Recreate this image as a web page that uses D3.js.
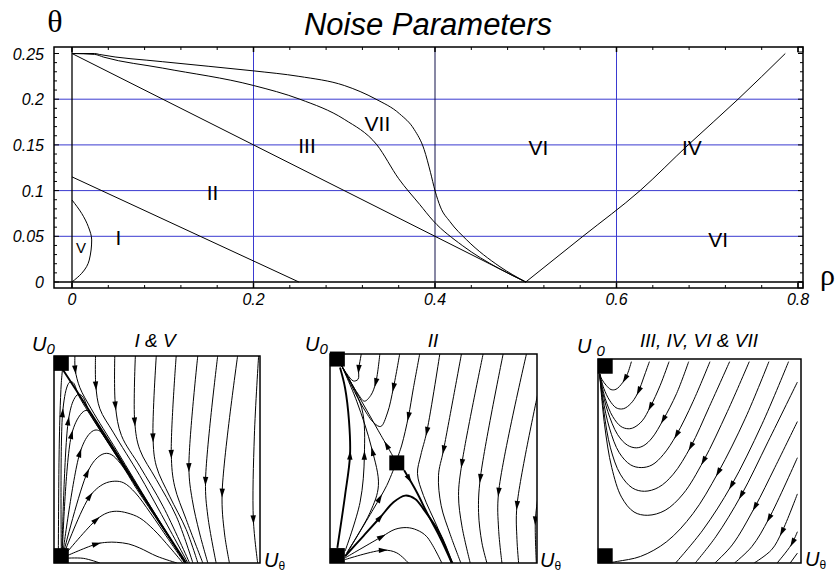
<!DOCTYPE html>
<html><head><meta charset="utf-8">
<script src="https://cdn.jsdelivr.net/npm/d3@7"></script>
<style>body{margin:0;background:#fff}svg{display:block}</style>
</head><body><svg id="c" width="836" height="575"></svg>
<script>
// ---------------- DATA ----------------
const rhoTicks = [0, 0.2, 0.4, 0.6, 0.8];
const rhoTickLabels = ["0", "0.2", "0.4", "0.6", "0.8"];
const thetaTicks = [0, 0.05, 0.1, 0.15, 0.2, 0.25];
const thetaTickLabels = ["0", "0.05", "0.1", "0.15", "0.2", "0.25"];
const hGridBlue = [0.05, 0.1, 0.15, 0.2];
const vGridBlue = [0.2, 0.6];
const vGridDark = [0.4];

const boundaryI_II = [[0, 0.115], [0.25, 0]];
const boundaryII_III = [[0, 0.25], [0.5, 0]];
const boundaryV = [[0, 0.0897], [0.0107, 0.075], [0.018, 0.0605], [0.0217, 0.046], [0.019, 0.024], [0.0107, 0.0095], [0, 0]];
const boundaryVIIupper = [[0, 0.25], [0.025, 0.25], [0.03, 0.249], [0.1, 0.241], [0.2, 0.231], [0.25, 0.225], [0.3, 0.215], [0.335, 0.2], [0.361, 0.184], [0.377, 0.167], [0.388, 0.145], [0.395, 0.12], [0.4, 0.1], [0.406, 0.082], [0.4165, 0.066], [0.435, 0.046], [0.4716, 0.0167], [0.5, 0]];
const boundaryVIIlower = [[0, 0.25], [0.025, 0.249], [0.035, 0.246], [0.1, 0.234], [0.2, 0.215], [0.251, 0.2], [0.3, 0.178], [0.336, 0.15], [0.36, 0.113], [0.383, 0.085], [0.398, 0.067], [0.43, 0.04], [0.47, 0.015], [0.5, 0]];
const boundaryIV = [[0.5, 0], [0.563, 0.05], [0.626, 0.1], [0.679, 0.15], [0.734, 0.2], [0.786, 0.25]];

const regionLabels = ["V", "I", "II", "III", "VII", "VI", "IV", "VI"];
const regionLabelAt = [[0.0099, 0.0317], [0.0512, 0.0405], [0.1548, 0.0897], [0.259, 0.1411], [0.3366, 0.1647], [0.514, 0.139], [0.683, 0.139], [0.712, 0.0383]];

const panelTitles = ["I & V", "II", "III, IV, VI & VII"];

// phase portraits: coordinates in phase-plane units (0..620 per side), ordered along the flow
const p1Streams = [
  [[23,585],[100,466],[180,342],[260,214],[330,104],[398,0]],
  [[63,623],[64,578],[78,525],[112,462],[190,335],[290,170],[396,0]],
  [[125,623],[126,530],[138,462],[178,392],[258,262],[318,155],[403,0]],
  [[183,623],[185,470],[203,382],[258,290],[328,170],[408,0]],
  [[245,623],[243,422],[258,340],[308,250],[368,140],[418,0]],
  [[308,623],[298,375],[308,290],[348,200],[398,100],[433,0]],
  [[368,623],[353,325],[363,230],[398,130],[448,0]],
  [[433,623],[406,285],[416,190],[438,90],[463,0]],
  [[493,623],[456,245],[463,140],[488,0]],
  [[553,623],[506,210],[513,90],[528,0]],
  [[616,623],[603,380],[600,130],[613,0]],
  [[30,14],[88,14],[138,0]],
  [[35,20],[128,57],[160,62],[188,62],[225,57],[258,45],[310,20],[370,0]],
  [[33,25],[128,130],[160,150],[188,155],[220,150],[258,135],[300,100],[350,45],[388,0]],
  [[31,30],[108,200],[150,237],[183,245],[210,240],[245,210],[290,150],[345,70],[393,0]],
  [[29,32],[100,270],[130,315],[153,328],[172,325],[200,298],[250,220],[320,115],[395,0]],
  [[27,32],[78,330],[105,385],[123,398],[138,395],[160,365],[220,272],[310,135],[396,0]],
  [[25,33],[53,385],[80,445],[96,457],[108,452],[130,415],[200,305],[300,152],[396,0]],
  [[24,35],[43,425],[60,490],[73,505],[85,500],[110,445],[190,320],[300,150],[396,0]],
  [[22,35],[26,450],[40,530],[48,542],[58,540],[75,500],[140,395],[260,210],[396,0]],
  [[13,20],[15,300],[18,445],[22,540],[26,585]]
];
const p1Arrows = [null,[63,578],[125,530],[185,470],[243,422],[298,375],[353,325],[406,285],[456,245],[506,210],[601,130],
  null,[128,57],[128,130],[108,200],[100,270],[78,330],[53,385],[43,425],[26,450],null];
const p1Thick = [0];
const p1Fixed = [[22,598],[22,22]];

const p2Streams = [
  [[200,297],[145,392],[90,488],[35,585]],
  [[222,275],[260,210],[290,150],[330,75],[365,0]],
  [[45,20],[100,80],[150,135],[190,180],[225,200],[255,190],[280,160],[330,85],[365,0]],
  [[45,15],[155,78],[195,100],[230,105],[260,98],[290,78],[335,0]],
  [[45,10],[160,38],[200,30],[235,0]],
  [[22,45],[45,200],[60,320],[57,420],[45,520],[30,580]],
  [[45,35],[90,180],[103,320],[95,460],[35,585]],
  [[50,30],[120,150],[145,230],[125,340],[80,480],[35,585]],
  [[50,28],[130,160],[170,230],[192,282]],
  [[95,627],[86,575],[84,545],[70,540],[50,562],[35,585]],
  [[150,627],[137,535],[122,497],[103,480],[85,500],[60,540],[35,585]],
  [[210,627],[190,520],[172,445],[152,405],[132,415],[100,460],[65,525],[35,585]],
  [[270,627],[250,520],[235,435],[215,350],[202,312]],
  [[330,627],[290,390],[272,320],[262,265],[280,200],[320,110],[368,0]],
  [[395,627],[340,335],[325,260],[333,170],[360,85],[392,0]],
  [[460,627],[395,295],[385,200],[395,110],[420,0]],
  [[520,627],[450,250],[445,150],[455,60],[470,0]],
  [[590,627],[505,210],[505,100],[515,0]],
  [[622,500],[560,170],[560,70],[565,0]],
  [[622,190],[615,125],[618,0]]
];
const p2Arrows = [[170,350],[230,245],[150,135],[155,78],[160,38],[60,320],[103,320],[122,330],[145,195],[86,575],[137,535],[190,520],
  [235,435],[290,390],[340,335],[395,295],[450,250],[505,210],[560,170],[615,125]];
const p2Thick = [1,2,5];
const p2Fixed = [[22,605],[22,22],[200,297]];

const p3Streams = [
  [[102,612],[90,575],[75,548],[55,528],[40,527],[25,540],[12,558],[5,575]],
  [[157,612],[140,565],[124,522],[105,490],[85,472],[72,468],[55,472],[35,495],[18,530],[5,575]],
  [[217,612],[190,540],[160,475],[135,432],[110,412],[92,408],[70,415],[45,445],[22,500],[5,575]],
  [[277,612],[240,515],[199,435],[165,380],[140,357],[117,350],[90,358],[60,390],[30,460],[12,530],[5,575]],
  [[342,612],[290,490],[240,390],[200,330],[165,298],[132,290],[100,298],[65,335],[35,410],[15,500],[5,575]],
  [[402,612],[340,475],[283,353],[230,270],[185,230],[142,218],[105,228],[68,270],[38,350],[18,460],[5,575]],
  [[462,612],[395,460],[322,310],[260,210],[205,160],[152,145],[110,155],[72,200],[42,290],[20,420],[5,575]],
  [[522,612],[450,440],[367,275],[290,150],[210,65],[130,20],[60,5],[30,0]],
  [[582,612],[500,420],[407,235],[320,100],[237,0]],
  [[609,550],[520,370],[437,205],[360,80],[297,0]],
  [[609,430],[540,290],[479,170],[410,55],[357,0]],
  [[609,320],[522,135],[470,50],[417,0]],
  [[609,210],[562,95],[530,40],[477,0]],
  [[609,95],[590,55],[547,0]],
  [[609,30],[587,0]]
];
const p3Arrows = [[82,560],[124,522],[160,475],[199,435],[240,390],[283,353],[322,310],[367,275],[407,235],[437,205],[479,170],[522,135],[562,95],[595,62],null];
const p3Thick = [];
const p3Fixed = [[22,598],[22,22]];

// ---------------- DRAW ----------------
const svg = d3.select("#c");
const x = d3.scaleLinear().domain([0, 0.8]).range([72, 798]);
const y = d3.scaleLinear().domain([0, 0.25]).range([282, 53.5]);
const F = {l: 54, t: 47, r: 803, b: 288};
const sans = "'Liberation Sans', Arial, sans-serif";
const serif = "'Liberation Serif', 'Times New Roman', serif";

svg.append("text").attr("x", 428).attr("y", 35).attr("text-anchor", "middle")
  .attr("font-family", sans).attr("font-style", "italic").attr("font-size", 31).text("Noise Parameters");
svg.append("text").attr("x", 55).attr("y", 32).attr("text-anchor", "middle")
  .attr("font-family", serif).attr("font-size", 32).text("θ");
svg.append("text").attr("x", 820).attr("y", 285)
  .attr("font-family", serif).attr("font-size", 30).text("ρ");

const main = svg.append("g");
main.selectAll(".hg").data(hGridBlue).join("line")
  .attr("x1", F.l).attr("x2", F.r).attr("y1", d => y(d)).attr("y2", d => y(d))
  .attr("stroke", "#3a3ad0").attr("stroke-width", 1);
main.selectAll(".vg").data(vGridBlue).join("line")
  .attr("y1", F.t).attr("y2", F.b).attr("x1", d => x(d)).attr("x2", d => x(d))
  .attr("stroke", "#3a3ad0").attr("stroke-width", 1);
main.selectAll(".vd").data(vGridDark).join("line")
  .attr("y1", F.t).attr("y2", F.b).attr("x1", d => x(d)).attr("x2", d => x(d))
  .attr("stroke", "#10104a").attr("stroke-width", 1);
main.append("line").attr("x1", x(0)).attr("x2", x(0)).attr("y1", F.t).attr("y2", F.b).attr("stroke", "#000").attr("stroke-width", 1.3);
main.append("line").attr("x1", F.l).attr("x2", F.r).attr("y1", y(0)).attr("y2", y(0)).attr("stroke", "#000").attr("stroke-width", 1.3);
main.append("rect").attr("x", F.l).attr("y", F.t).attr("width", F.r - F.l).attr("height", F.b - F.t)
  .attr("fill", "none").attr("stroke", "#000").attr("stroke-width", 1.5);
const thMinor = d3.range(0, 0.2501, 0.01);
thMinor.forEach((v, i) => {
  const major = i % 5 === 0, len = major ? 5 : 3;
  main.append("line").attr("x1", F.l).attr("x2", F.l + len).attr("y1", y(v)).attr("y2", y(v)).attr("stroke", "#000");
  main.append("line").attr("x1", F.r).attr("x2", F.r - len).attr("y1", y(v)).attr("y2", y(v)).attr("stroke", "#000");
});
const rhMinor = d3.range(0, 0.8001, 0.04);
rhMinor.forEach((v, i) => {
  const major = i % 5 === 0, len = major ? 5 : 3;
  main.append("line").attr("y1", F.t).attr("y2", F.t + len).attr("x1", x(v)).attr("x2", x(v)).attr("stroke", "#000").attr("stroke-width", major ? 1.5 : 1);
  main.append("line").attr("y1", F.b).attr("y2", F.b - len).attr("x1", x(v)).attr("x2", x(v)).attr("stroke", "#000").attr("stroke-width", major ? 1.5 : 1);
});
main.append("rect").attr("x", x(0.8)).attr("y", F.t).attr("width", F.r - x(0.8)).attr("height", 5).attr("fill", "none").attr("stroke", "#000");
main.append("rect").attr("x", x(0.8)).attr("y", y(0)).attr("width", F.r - x(0.8)).attr("height", F.b - y(0)).attr("fill", "none").attr("stroke", "#000");
main.selectAll(".yl").data(thetaTicks).join("text")
  .attr("x", 44).attr("y", d => y(d) + 6).attr("text-anchor", "end")
  .attr("font-family", sans).attr("font-style", "italic").attr("font-size", 16)
  .text((d, i) => thetaTickLabels[i]);
main.selectAll(".xl").data(rhoTicks).join("text")
  .attr("x", d => x(d)).attr("y", 305).attr("text-anchor", "middle")
  .attr("font-family", sans).attr("font-style", "italic").attr("font-size", 16)
  .text((d, i) => rhoTickLabels[i]);
const lineX = d3.line().x(d => x(d[0])).y(d => y(d[1])).curve(d3.curveMonotoneX);
const lineY = d3.line().x(d => x(d[0])).y(d => y(d[1])).curve(d3.curveMonotoneY);
[boundaryI_II, boundaryII_III, boundaryVIIupper, boundaryVIIlower, boundaryIV].forEach(b => {
  main.append("path").attr("d", lineX(b)).attr("fill", "none").attr("stroke", "#000").attr("stroke-width", 1);
});
main.append("path").attr("d", lineY(boundaryV.slice().reverse())).attr("fill", "none").attr("stroke", "#000").attr("stroke-width", 1);
regionLabels.forEach((t, i) => {
  main.append("text").attr("x", x(regionLabelAt[i][0])).attr("y", y(regionLabelAt[i][1]))
    .attr("text-anchor", "middle").attr("font-family", sans)
    .attr("font-size", t === "V" ? 15 : 21).text(t);
});

// ---------------- PANELS ----------------
const panels = [
  {box: [54, 356, 260, 563], streams: p1Streams, arrows: p1Arrows, thick: p1Thick, fixed: p1Fixed, title: panelTitles[0], tx: 155,
   u0: [32, 351], ut: [264, 567], spaced: false},
  {box: [330, 354, 537, 563], streams: p2Streams, arrows: p2Arrows, thick: p2Thick, fixed: p2Fixed, title: panelTitles[1], tx: 433,
   u0: [305, 351], ut: [540, 567], spaced: false},
  {box: [598, 359, 801, 563], streams: p3Streams, arrows: p3Arrows, thick: p3Thick, fixed: p3Fixed, title: panelTitles[2], tx: 699,
   u0: [577, 353], ut: [805, 566], spaced: true}
];

panels.forEach(P => {
  const [l, t, r, b] = P.box;
  const sx = d3.scaleLinear().domain([0, 620]).range([l, r]);
  const sy = d3.scaleLinear().domain([0, 620]).range([b, t]);
  const g = svg.append("g");
  const defs = svg.append("defs");
  const cid = "clip" + l;
  defs.append("clipPath").attr("id", cid).append("rect").attr("x", l).attr("y", t).attr("width", r - l).attr("height", b - t);
  const gc = g.append("g").attr("clip-path", `url(#${cid})`);
  const ln = d3.line().x(d => sx(d[0])).y(d => sy(d[1])).curve(d3.curveCatmullRom.alpha(0.5));
  P.streams.forEach((s, i) => {
    const p = gc.append("path").attr("d", ln(s)).attr("fill", "none").attr("stroke", "#000")
      .attr("stroke-width", P.thick.includes(i) ? 1.9 : 1);
    const a = P.arrows[i];
    if (a) {
      const node = p.node(), L = node.getTotalLength();
      const tx = sx(a[0]), ty = sy(a[1]);
      let best = 0, bd = 1e12;
      for (let k = 0; k <= L; k += 0.5) {
        const q = node.getPointAtLength(k);
        const dd = (q.x - tx) ** 2 + (q.y - ty) ** 2;
        if (dd < bd) { bd = dd; best = k; }
      }
      const p0 = node.getPointAtLength(Math.max(0, best - 3)), p1 = node.getPointAtLength(Math.min(L, best + 3));
      const ang = Math.atan2(p1.y - p0.y, p1.x - p0.x);
      const c = node.getPointAtLength(best);
      const ca = Math.cos(ang), sa = Math.sin(ang), len = 9, hw = 2.7;
      const tip = [c.x + ca * len / 2, c.y + sa * len / 2];
      const bx = c.x - ca * len / 2, by = c.y - sa * len / 2;
      const pts = [tip, [bx - sa * hw, by + ca * hw], [bx + sa * hw, by - ca * hw]];
      gc.append("path").attr("d", "M" + pts.map(q => q.join(",")).join("L") + "Z").attr("fill", "#000");
    }
  });
  P.fixed.forEach(f => {
    g.append("rect").attr("x", sx(f[0]) - 7.5).attr("y", sy(f[1]) - 7.5).attr("width", 15).attr("height", 15).attr("fill", "#000");
  });
  g.append("rect").attr("x", l).attr("y", t).attr("width", r - l).attr("height", b - t)
    .attr("fill", "none").attr("stroke", "#000").attr("stroke-width", 1.5);
  g.append("text").attr("x", P.tx).attr("y", 347).attr("text-anchor", "middle")
    .attr("font-family", sans).attr("font-style", "italic").attr("font-size", 19).text(P.title);
  const u0 = g.append("text").attr("x", P.u0[0]).attr("y", P.u0[1])
    .attr("font-family", sans).attr("font-style", "italic").attr("font-size", 20);
  u0.append("tspan").text("U");
  u0.append("tspan").attr("dx", P.spaced ? 5 : 0).attr("dy", 3).attr("font-size", 15).text("0");
  const ut = g.append("text").attr("x", P.ut[0]).attr("y", P.ut[1])
    .attr("font-family", sans).attr("font-style", "italic").attr("font-size", 20);
  ut.append("tspan").text("U");
  ut.append("tspan").attr("dy", 3).attr("font-size", 12).attr("font-style", "normal").text("θ");
});
</script></body></html>
